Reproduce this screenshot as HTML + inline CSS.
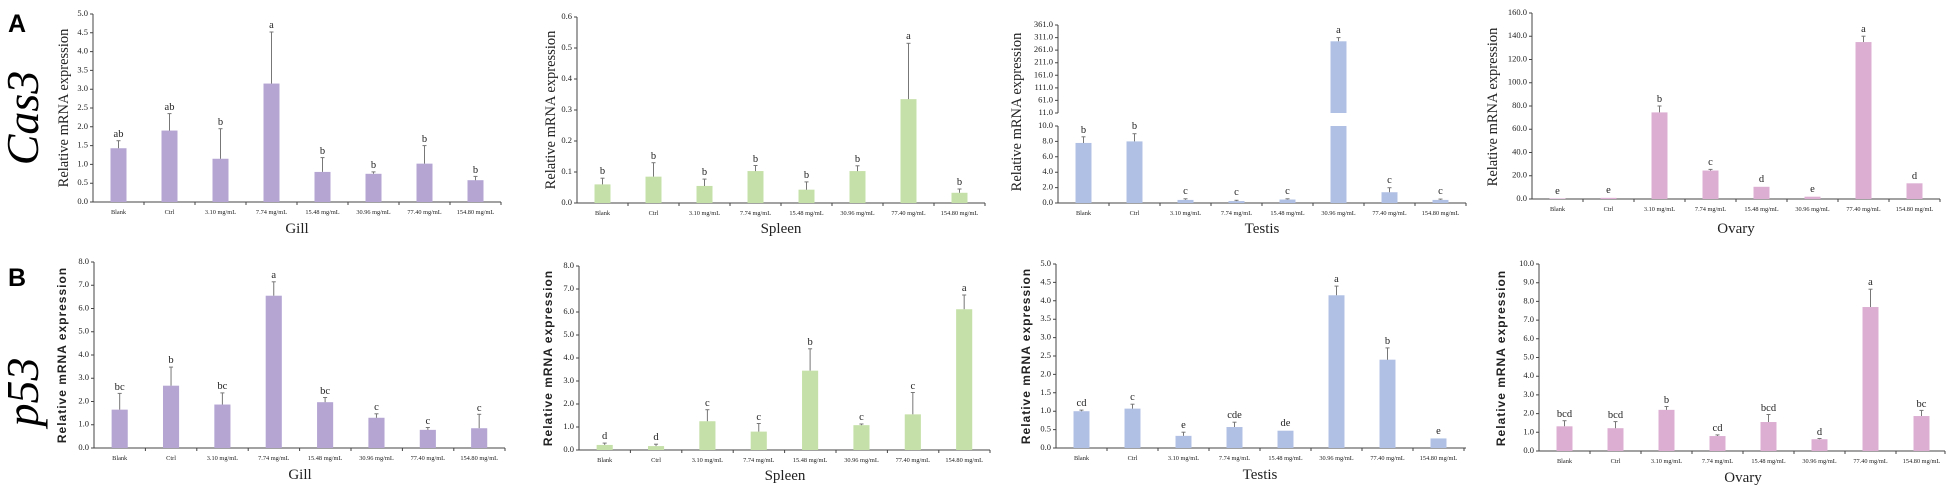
<!DOCTYPE html>
<html><head><meta charset="utf-8"><style>
html,body{margin:0;padding:0;background:#fff}
svg{display:block}
text{font-family:"Liberation Serif",serif;fill:#222}
.t{font-size:8.5px;text-anchor:end;dominant-baseline:middle}
.c{font-size:6.3px;text-anchor:middle}
.l{font-size:10.5px;text-anchor:middle}
.ti{font-size:15px;text-anchor:middle}
.ya{font-size:14.5px;text-anchor:middle}
.yb{font-family:"Liberation Sans",sans-serif;font-size:12px;font-weight:bold;letter-spacing:1px;text-anchor:middle;fill:#222}
.ax{stroke:#444;stroke-width:1;fill:none}
.e line{stroke:#777;stroke-width:1}
</style></head><body>
<svg width="1949" height="492" viewBox="0 0 1949 492" xmlns="http://www.w3.org/2000/svg">
<text x="8" y="32" style="font-family:'Liberation Sans',sans-serif;font-weight:bold;font-size:25px;fill:#000">A</text>
<text x="8" y="286" style="font-family:'Liberation Sans',sans-serif;font-weight:bold;font-size:25px;fill:#000">B</text>
<text transform="translate(38,118) rotate(-90)" style="font-family:'Liberation Serif',serif;font-style:italic;font-size:46px;fill:#000;text-anchor:middle">Cas3</text>
<text transform="translate(38,392) rotate(-90)" style="font-family:'Liberation Serif',serif;font-style:italic;font-size:46px;fill:#000;text-anchor:middle">p53</text>

<!-- A Gill -->
<text class="ya" transform="translate(68,108) rotate(-90)">Relative mRNA expression</text>
<g transform="translate(93,202)">
<path class="ax" d="M0,0V-188M0,0H408M-3,0H0M-3,-18.8H0M-3,-37.6H0M-3,-56.4H0M-3,-75.2H0M-3,-94H0M-3,-112.8H0M-3,-131.6H0M-3,-150.4H0M-3,-169.2H0M-3,-188H0M51,0v3M102,0v3M153,0v3M204,0v3M255,0v3M306,0v3M357,0v3M408,0v3"/>
<text class="t" x="-5" y="0">0.0</text><text class="t" x="-5" y="-18.8">0.5</text><text class="t" x="-5" y="-37.6">1.0</text><text class="t" x="-5" y="-56.4">1.5</text><text class="t" x="-5" y="-75.2">2.0</text><text class="t" x="-5" y="-94">2.5</text><text class="t" x="-5" y="-112.8">3.0</text><text class="t" x="-5" y="-131.6">3.5</text><text class="t" x="-5" y="-150.4">4.0</text><text class="t" x="-5" y="-169.2">4.5</text><text class="t" x="-5" y="-188">5.0</text>
<g fill="#b4a5d3" transform="scale(1,-37.6)"><rect x="17.5" width="16" height="1.43"/><rect x="68.5" width="16" height="1.9"/><rect x="119.5" width="16" height="1.15"/><rect x="170.5" width="16" height="3.15"/><rect x="221.5" width="16" height="0.8"/><rect x="272.5" width="16" height="0.75"/><rect x="323.5" width="16" height="1.02"/><rect x="374.5" width="16" height="0.58"/></g>
<g class="e"><line x1="25.5" x2="25.5" y1="-53.8" y2="-61.3"/><line x1="23.5" x2="27.5" y1="-61.3" y2="-61.3"/><line x1="76.5" x2="76.5" y1="-71.4" y2="-88.4"/><line x1="74.5" x2="78.5" y1="-88.4" y2="-88.4"/><line x1="127.5" x2="127.5" y1="-43.2" y2="-73.3"/><line x1="125.5" x2="129.5" y1="-73.3" y2="-73.3"/><line x1="178.5" x2="178.5" y1="-118.4" y2="-170"/><line x1="176.5" x2="180.5" y1="-170" y2="-170"/><line x1="229.5" x2="229.5" y1="-30.1" y2="-44.4"/><line x1="227.5" x2="231.5" y1="-44.4" y2="-44.4"/><line x1="280.5" x2="280.5" y1="-28.2" y2="-30.1"/><line x1="278.5" x2="282.5" y1="-30.1" y2="-30.1"/><line x1="331.5" x2="331.5" y1="-38.4" y2="-56.4"/><line x1="329.5" x2="333.5" y1="-56.4" y2="-56.4"/><line x1="382.5" x2="382.5" y1="-21.8" y2="-25.6"/><line x1="380.5" x2="384.5" y1="-25.6" y2="-25.6"/></g>
<text class="l" x="25.5" y="-65">ab</text><text class="l" x="76.5" y="-92">ab</text><text class="l" x="127.5" y="-77">b</text><text class="l" x="178.5" y="-174">a</text><text class="l" x="229.5" y="-48">b</text><text class="l" x="280.5" y="-34">b</text><text class="l" x="331.5" y="-60">b</text><text class="l" x="382.5" y="-29">b</text>
<text class="c" x="25.5" y="12">Blank</text><text class="c" x="76.5" y="12">Ctrl</text><text class="c" x="127.5" y="12">3.10 mg/mL</text><text class="c" x="178.5" y="12">7.74 mg/mL</text><text class="c" x="229.5" y="12">15.48 mg/mL</text><text class="c" x="280.5" y="12">30.96 mg/mL</text><text class="c" x="331.5" y="12">77.40 mg/mL</text><text class="c" x="382.5" y="12">154.80 mg/mL</text>
<text class="ti" x="204" y="31">Gill</text>
</g>

<!-- A Spleen -->
<text class="ya" transform="translate(555,110) rotate(-90)">Relative mRNA expression</text>
<g transform="translate(577,203)">
<path class="ax" d="M0,0V-186M0,0H408M-3,0H0M-3,-31H0M-3,-62H0M-3,-93H0M-3,-124H0M-3,-155H0M-3,-186H0M51,0v3M102,0v3M153,0v3M204,0v3M255,0v3M306,0v3M357,0v3M408,0v3"/>
<text class="t" x="-5" y="0">0.0</text><text class="t" x="-5" y="-31">0.1</text><text class="t" x="-5" y="-62">0.2</text><text class="t" x="-5" y="-93">0.3</text><text class="t" x="-5" y="-124">0.4</text><text class="t" x="-5" y="-155">0.5</text><text class="t" x="-5" y="-186">0.6</text>
<g fill="#c5e0a8" transform="scale(1,-310)"><rect x="17.5" width="16" height="0.06"/><rect x="68.5" width="16" height="0.085"/><rect x="119.5" width="16" height="0.055"/><rect x="170.5" width="16" height="0.103"/><rect x="221.5" width="16" height="0.043"/><rect x="272.5" width="16" height="0.103"/><rect x="323.5" width="16" height="0.335"/><rect x="374.5" width="16" height="0.033"/></g>
<g class="e"><line x1="25.5" x2="25.5" y1="-18.6" y2="-24.8"/><line x1="23.5" x2="27.5" y1="-24.8" y2="-24.8"/><line x1="76.5" x2="76.5" y1="-26.4" y2="-40.3"/><line x1="74.5" x2="78.5" y1="-40.3" y2="-40.3"/><line x1="127.5" x2="127.5" y1="-17" y2="-23.9"/><line x1="125.5" x2="129.5" y1="-23.9" y2="-23.9"/><line x1="178.5" x2="178.5" y1="-31.9" y2="-37.5"/><line x1="176.5" x2="180.5" y1="-37.5" y2="-37.5"/><line x1="229.5" x2="229.5" y1="-13.3" y2="-21.1"/><line x1="227.5" x2="231.5" y1="-21.1" y2="-21.1"/><line x1="280.5" x2="280.5" y1="-31.9" y2="-37.2"/><line x1="278.5" x2="282.5" y1="-37.2" y2="-37.2"/><line x1="331.5" x2="331.5" y1="-103.9" y2="-159.7"/><line x1="329.5" x2="333.5" y1="-159.7" y2="-159.7"/><line x1="382.5" x2="382.5" y1="-10.2" y2="-14"/><line x1="380.5" x2="384.5" y1="-14" y2="-14"/></g>
<text class="l" x="25.5" y="-29">b</text><text class="l" x="76.5" y="-44">b</text><text class="l" x="127.5" y="-28">b</text><text class="l" x="178.5" y="-41">b</text><text class="l" x="229.5" y="-25">b</text><text class="l" x="280.5" y="-41">b</text><text class="l" x="331.5" y="-164">a</text><text class="l" x="382.5" y="-18">b</text>
<text class="c" x="25.5" y="12">Blank</text><text class="c" x="76.5" y="12">Ctrl</text><text class="c" x="127.5" y="12">3.10 mg/mL</text><text class="c" x="178.5" y="12">7.74 mg/mL</text><text class="c" x="229.5" y="12">15.48 mg/mL</text><text class="c" x="280.5" y="12">30.96 mg/mL</text><text class="c" x="331.5" y="12">77.40 mg/mL</text><text class="c" x="382.5" y="12">154.80 mg/mL</text>
<text class="ti" x="204" y="30">Spleen</text>
</g>

<!-- A Testis -->
<text class="ya" transform="translate(1021,112) rotate(-90)">Relative mRNA expression</text>
<g transform="translate(1058,203)">
<path class="ax" d="M0,0V-77M0,-90V-178M0,0H408M-3,0H0M-3,-15.4H0M-3,-30.8H0M-3,-46.2H0M-3,-61.6H0M-3,-77H0M-3,-90H0M-3,-102.57H0M-3,-115.14H0M-3,-127.71H0M-3,-140.29H0M-3,-152.86H0M-3,-165.43H0M-3,-178H0M51,0v3M102,0v3M153,0v3M204,0v3M255,0v3M306,0v3M357,0v3M408,0v3"/>
<text class="t" x="-5" y="0">0.0</text><text class="t" x="-5" y="-15.4">2.0</text><text class="t" x="-5" y="-30.8">4.0</text><text class="t" x="-5" y="-46.2">6.0</text><text class="t" x="-5" y="-61.6">8.0</text><text class="t" x="-5" y="-77">10.0</text>
<text class="t" x="-5" y="-90">11.0</text><text class="t" x="-5" y="-102.57">61.0</text><text class="t" x="-5" y="-115.14">111.0</text><text class="t" x="-5" y="-127.71">161.0</text><text class="t" x="-5" y="-140.29">211.0</text><text class="t" x="-5" y="-152.86">261.0</text><text class="t" x="-5" y="-165.43">311.0</text><text class="t" x="-5" y="-178">361.0</text>
<g fill="#b0c0e4" transform="scale(1,-7.7)"><rect x="17.5" width="16" height="7.8"/><rect x="68.5" width="16" height="8.0"/><rect x="119.5" width="16" height="0.4"/><rect x="170.5" width="16" height="0.25"/><rect x="221.5" width="16" height="0.45"/><rect x="272.5" width="16" height="10"/><rect x="323.5" width="16" height="1.4"/><rect x="374.5" width="16" height="0.4"/></g>
<rect x="272.5" y="-161.7" width="16" height="71.7" fill="#b0c0e4"/>
<g class="e"><line x1="25.5" x2="25.5" y1="-60" y2="-66.2"/><line x1="23.5" x2="27.5" y1="-66.2" y2="-66.2"/><line x1="76.5" x2="76.5" y1="-61.6" y2="-69.3"/><line x1="74.5" x2="78.5" y1="-69.3" y2="-69.3"/><line x1="127.5" x2="127.5" y1="-3.1" y2="-4.2"/><line x1="125.5" x2="129.5" y1="-4.2" y2="-4.2"/><line x1="178.5" x2="178.5" y1="-1.9" y2="-2.7"/><line x1="176.5" x2="180.5" y1="-2.7" y2="-2.7"/><line x1="229.5" x2="229.5" y1="-3.5" y2="-4.2"/><line x1="227.5" x2="231.5" y1="-4.2" y2="-4.2"/><line x1="280.5" x2="280.5" y1="-161.7" y2="-165.4"/><line x1="278.5" x2="282.5" y1="-165.4" y2="-165.4"/><line x1="331.5" x2="331.5" y1="-10.8" y2="-15.3"/><line x1="329.5" x2="333.5" y1="-15.3" y2="-15.3"/><line x1="382.5" x2="382.5" y1="-3.1" y2="-3.9"/><line x1="380.5" x2="384.5" y1="-3.9" y2="-3.9"/></g>
<text class="l" x="25.5" y="-70">b</text><text class="l" x="76.5" y="-74">b</text><text class="l" x="127.5" y="-9">c</text><text class="l" x="178.5" y="-8">c</text><text class="l" x="229.5" y="-9">c</text><text class="l" x="280.5" y="-170">a</text><text class="l" x="331.5" y="-20">c</text><text class="l" x="382.5" y="-9">c</text>
<text class="c" x="25.5" y="12">Blank</text><text class="c" x="76.5" y="12">Ctrl</text><text class="c" x="127.5" y="12">3.10 mg/mL</text><text class="c" x="178.5" y="12">7.74 mg/mL</text><text class="c" x="229.5" y="12">15.48 mg/mL</text><text class="c" x="280.5" y="12">30.96 mg/mL</text><text class="c" x="331.5" y="12">77.40 mg/mL</text><text class="c" x="382.5" y="12">154.80 mg/mL</text>
<text class="ti" x="204" y="30">Testis</text>
</g>

<!-- A Ovary -->
<text class="ya" transform="translate(1497,107) rotate(-90)">Relative mRNA expression</text>
<g transform="translate(1532,199)">
<path class="ax" d="M0,0V-186M0,0H408M-3,0H0M-3,-23.25H0M-3,-46.5H0M-3,-69.75H0M-3,-93H0M-3,-116.25H0M-3,-139.5H0M-3,-162.75H0M-3,-186H0M51,0v3M102,0v3M153,0v3M204,0v3M255,0v3M306,0v3M357,0v3M408,0v3"/>
<text class="t" x="-5" y="0">0.0</text><text class="t" x="-5" y="-23.25">20.0</text><text class="t" x="-5" y="-46.5">40.0</text><text class="t" x="-5" y="-69.75">60.0</text><text class="t" x="-5" y="-93">80.0</text><text class="t" x="-5" y="-116.25">100.0</text><text class="t" x="-5" y="-139.5">120.0</text><text class="t" x="-5" y="-162.75">140.0</text><text class="t" x="-5" y="-186">160.0</text>
<g fill="#dcafd2" transform="scale(1,-1.1625)"><rect x="17.5" width="16" height="0.5"/><rect x="68.5" width="16" height="1"/><rect x="119.5" width="16" height="74.5"/><rect x="170.5" width="16" height="24.5"/><rect x="221.5" width="16" height="10.5"/><rect x="272.5" width="16" height="2"/><rect x="323.5" width="16" height="135"/><rect x="374.5" width="16" height="13.5"/></g>
<g class="e"><line x1="127.5" x2="127.5" y1="-86.6" y2="-93"/><line x1="125.5" x2="129.5" y1="-93" y2="-93"/><line x1="178.5" x2="178.5" y1="-28.5" y2="-29.6"/><line x1="176.5" x2="180.5" y1="-29.6" y2="-29.6"/><line x1="331.5" x2="331.5" y1="-157" y2="-162.8"/><line x1="329.5" x2="333.5" y1="-162.8" y2="-162.8"/></g>
<text class="l" x="25.5" y="-5">e</text><text class="l" x="76.5" y="-6">e</text><text class="l" x="127.5" y="-97">b</text><text class="l" x="178.5" y="-34">c</text><text class="l" x="229.5" y="-17">d</text><text class="l" x="280.5" y="-7">e</text><text class="l" x="331.5" y="-167">a</text><text class="l" x="382.5" y="-20">d</text>
<text class="c" x="25.5" y="12">Blank</text><text class="c" x="76.5" y="12">Ctrl</text><text class="c" x="127.5" y="12">3.10 mg/mL</text><text class="c" x="178.5" y="12">7.74 mg/mL</text><text class="c" x="229.5" y="12">15.48 mg/mL</text><text class="c" x="280.5" y="12">30.96 mg/mL</text><text class="c" x="331.5" y="12">77.40 mg/mL</text><text class="c" x="382.5" y="12">154.80 mg/mL</text>
<text class="ti" x="204" y="34">Ovary</text>
</g>

<!-- B Gill -->
<text class="yb" transform="translate(66,355) rotate(-90)">Relative mRNA expression</text>
<g transform="translate(94,448)">
<path class="ax" d="M0,0V-186M0,0H411M-3,0H0M-3,-23.25H0M-3,-46.5H0M-3,-69.75H0M-3,-93H0M-3,-116.25H0M-3,-139.5H0M-3,-162.75H0M-3,-186H0M51.4,0v3M102.8,0v3M154.2,0v3M205.6,0v3M257,0v3M308.4,0v3M359.8,0v3M411,0v3"/>
<text class="t" x="-5" y="0">0.0</text><text class="t" x="-5" y="-23.25">1.0</text><text class="t" x="-5" y="-46.5">2.0</text><text class="t" x="-5" y="-69.75">3.0</text><text class="t" x="-5" y="-93">4.0</text><text class="t" x="-5" y="-116.25">5.0</text><text class="t" x="-5" y="-139.5">6.0</text><text class="t" x="-5" y="-162.75">7.0</text><text class="t" x="-5" y="-186">8.0</text>
<g transform="scale(1.007,1)">
<g fill="#b4a5d3" transform="scale(1,-23.25)"><rect x="17.5" width="16" height="1.65"/><rect x="68.5" width="16" height="2.68"/><rect x="119.5" width="16" height="1.87"/><rect x="170.5" width="16" height="6.55"/><rect x="221.5" width="16" height="1.97"/><rect x="272.5" width="16" height="1.3"/><rect x="323.5" width="16" height="0.78"/><rect x="374.5" width="16" height="0.85"/></g>
<g class="e"><line x1="25.5" x2="25.5" y1="-38.4" y2="-54.6"/><line x1="23.5" x2="27.5" y1="-54.6" y2="-54.6"/><line x1="76.5" x2="76.5" y1="-62.3" y2="-80.9"/><line x1="74.5" x2="78.5" y1="-80.9" y2="-80.9"/><line x1="127.5" x2="127.5" y1="-43.5" y2="-55.1"/><line x1="125.5" x2="129.5" y1="-55.1" y2="-55.1"/><line x1="178.5" x2="178.5" y1="-152.3" y2="-166.2"/><line x1="176.5" x2="180.5" y1="-166.2" y2="-166.2"/><line x1="229.5" x2="229.5" y1="-45.8" y2="-50.5"/><line x1="227.5" x2="231.5" y1="-50.5" y2="-50.5"/><line x1="280.5" x2="280.5" y1="-30.2" y2="-34.2"/><line x1="278.5" x2="282.5" y1="-34.2" y2="-34.2"/><line x1="331.5" x2="331.5" y1="-18.1" y2="-20.5"/><line x1="329.5" x2="333.5" y1="-20.5" y2="-20.5"/><line x1="382.5" x2="382.5" y1="-19.8" y2="-33.7"/><line x1="380.5" x2="384.5" y1="-33.7" y2="-33.7"/></g>
<text class="l" x="25.5" y="-58">bc</text><text class="l" x="76.5" y="-85">b</text><text class="l" x="127.5" y="-59">bc</text><text class="l" x="178.5" y="-170">a</text><text class="l" x="229.5" y="-54">bc</text><text class="l" x="280.5" y="-38">c</text><text class="l" x="331.5" y="-24">c</text><text class="l" x="382.5" y="-37">c</text>
<text class="c" x="25.5" y="12">Blank</text><text class="c" x="76.5" y="12">Ctrl</text><text class="c" x="127.5" y="12">3.10 mg/mL</text><text class="c" x="178.5" y="12">7.74 mg/mL</text><text class="c" x="229.5" y="12">15.48 mg/mL</text><text class="c" x="280.5" y="12">30.96 mg/mL</text><text class="c" x="331.5" y="12">77.40 mg/mL</text><text class="c" x="382.5" y="12">154.80 mg/mL</text>
</g>
<text class="ti" x="206" y="31">Gill</text>
</g>

<!-- B Spleen -->
<text class="yb" transform="translate(552,358) rotate(-90)">Relative mRNA expression</text>
<g transform="translate(579,450)">
<path class="ax" d="M0,0V-184M0,0H411M-3,0H0M-3,-23H0M-3,-46H0M-3,-69H0M-3,-92H0M-3,-115H0M-3,-138H0M-3,-161H0M-3,-184H0M51.4,0v3M102.8,0v3M154.2,0v3M205.6,0v3M257,0v3M308.4,0v3M359.8,0v3M411,0v3"/>
<text class="t" x="-5" y="0">0.0</text><text class="t" x="-5" y="-23">1.0</text><text class="t" x="-5" y="-46">2.0</text><text class="t" x="-5" y="-69">3.0</text><text class="t" x="-5" y="-92">4.0</text><text class="t" x="-5" y="-115">5.0</text><text class="t" x="-5" y="-138">6.0</text><text class="t" x="-5" y="-161">7.0</text><text class="t" x="-5" y="-184">8.0</text>
<g transform="scale(1.007,1)">
<g fill="#c5e0a8" transform="scale(1,-23)"><rect x="17.5" width="16" height="0.22"/><rect x="68.5" width="16" height="0.17"/><rect x="119.5" width="16" height="1.25"/><rect x="170.5" width="16" height="0.8"/><rect x="221.5" width="16" height="3.45"/><rect x="272.5" width="16" height="1.08"/><rect x="323.5" width="16" height="1.55"/><rect x="374.5" width="16" height="6.12"/></g>
<g class="e"><line x1="25.5" x2="25.5" y1="-5.1" y2="-6.9"/><line x1="23.5" x2="27.5" y1="-6.9" y2="-6.9"/><line x1="76.5" x2="76.5" y1="-3.9" y2="-5.8"/><line x1="74.5" x2="78.5" y1="-5.8" y2="-5.8"/><line x1="127.5" x2="127.5" y1="-28.8" y2="-40.3"/><line x1="125.5" x2="129.5" y1="-40.3" y2="-40.3"/><line x1="178.5" x2="178.5" y1="-18.4" y2="-26.5"/><line x1="176.5" x2="180.5" y1="-26.5" y2="-26.5"/><line x1="229.5" x2="229.5" y1="-79.4" y2="-101.2"/><line x1="227.5" x2="231.5" y1="-101.2" y2="-101.2"/><line x1="280.5" x2="280.5" y1="-24.8" y2="-26"/><line x1="278.5" x2="282.5" y1="-26" y2="-26"/><line x1="331.5" x2="331.5" y1="-35.7" y2="-57.5"/><line x1="329.5" x2="333.5" y1="-57.5" y2="-57.5"/><line x1="382.5" x2="382.5" y1="-140.8" y2="-155"/><line x1="380.5" x2="384.5" y1="-155" y2="-155"/></g>
<text class="l" x="25.5" y="-11">d</text><text class="l" x="76.5" y="-10">d</text><text class="l" x="127.5" y="-44">c</text><text class="l" x="178.5" y="-30">c</text><text class="l" x="229.5" y="-105">b</text><text class="l" x="280.5" y="-30">c</text><text class="l" x="331.5" y="-61">c</text><text class="l" x="382.5" y="-159">a</text>
<text class="c" x="25.5" y="12">Blank</text><text class="c" x="76.5" y="12">Ctrl</text><text class="c" x="127.5" y="12">3.10 mg/mL</text><text class="c" x="178.5" y="12">7.74 mg/mL</text><text class="c" x="229.5" y="12">15.48 mg/mL</text><text class="c" x="280.5" y="12">30.96 mg/mL</text><text class="c" x="331.5" y="12">77.40 mg/mL</text><text class="c" x="382.5" y="12">154.80 mg/mL</text>
</g>
<text class="ti" x="206" y="30">Spleen</text>
</g>

<!-- B Testis -->
<text class="yb" transform="translate(1030,356) rotate(-90)">Relative mRNA expression</text>
<g transform="translate(1056,448)">
<path class="ax" d="M0,0V-184M0,0H410M-3,0H0M-3,-18.4H0M-3,-36.8H0M-3,-55.2H0M-3,-73.6H0M-3,-92H0M-3,-110.4H0M-3,-128.8H0M-3,-147.2H0M-3,-165.6H0M-3,-184H0M51,0v3M102,0v3M153,0v3M204,0v3M255,0v3M306,0v3M357,0v3M408,0v3"/>
<text class="t" x="-5" y="0">0.0</text><text class="t" x="-5" y="-18.4">0.5</text><text class="t" x="-5" y="-36.8">1.0</text><text class="t" x="-5" y="-55.2">1.5</text><text class="t" x="-5" y="-73.6">2.0</text><text class="t" x="-5" y="-92">2.5</text><text class="t" x="-5" y="-110.4">3.0</text><text class="t" x="-5" y="-128.8">3.5</text><text class="t" x="-5" y="-147.2">4.0</text><text class="t" x="-5" y="-165.6">4.5</text><text class="t" x="-5" y="-184">5.0</text>
<g fill="#b0c0e4" transform="scale(1,-36.8)"><rect x="17.5" width="16" height="1.0"/><rect x="68.5" width="16" height="1.07"/><rect x="119.5" width="16" height="0.33"/><rect x="170.5" width="16" height="0.57"/><rect x="221.5" width="16" height="0.47"/><rect x="272.5" width="16" height="4.15"/><rect x="323.5" width="16" height="2.4"/><rect x="374.5" width="16" height="0.26"/></g>
<g class="e"><line x1="25.5" x2="25.5" y1="-36.8" y2="-37.9"/><line x1="23.5" x2="27.5" y1="-37.9" y2="-37.9"/><line x1="76.5" x2="76.5" y1="-39.4" y2="-43.8"/><line x1="74.5" x2="78.5" y1="-43.8" y2="-43.8"/><line x1="127.5" x2="127.5" y1="-12.1" y2="-15.8"/><line x1="125.5" x2="129.5" y1="-15.8" y2="-15.8"/><line x1="178.5" x2="178.5" y1="-21" y2="-25.8"/><line x1="176.5" x2="180.5" y1="-25.8" y2="-25.8"/><line x1="280.5" x2="280.5" y1="-152.7" y2="-161.9"/><line x1="278.5" x2="282.5" y1="-161.9" y2="-161.9"/><line x1="331.5" x2="331.5" y1="-88.3" y2="-100.1"/><line x1="329.5" x2="333.5" y1="-100.1" y2="-100.1"/></g>
<text class="l" x="25.5" y="-42">cd</text><text class="l" x="76.5" y="-48">c</text><text class="l" x="127.5" y="-20">e</text><text class="l" x="178.5" y="-30">cde</text><text class="l" x="229.5" y="-22">de</text><text class="l" x="280.5" y="-166">a</text><text class="l" x="331.5" y="-104">b</text><text class="l" x="382.5" y="-14">e</text>
<text class="c" x="25.5" y="12">Blank</text><text class="c" x="76.5" y="12">Ctrl</text><text class="c" x="127.5" y="12">3.10 mg/mL</text><text class="c" x="178.5" y="12">7.74 mg/mL</text><text class="c" x="229.5" y="12">15.48 mg/mL</text><text class="c" x="280.5" y="12">30.96 mg/mL</text><text class="c" x="331.5" y="12">77.40 mg/mL</text><text class="c" x="382.5" y="12">154.80 mg/mL</text>
<text class="ti" x="204" y="31">Testis</text>
</g>

<!-- B Ovary -->
<text class="yb" transform="translate(1505,358) rotate(-90)">Relative mRNA expression</text>
<g transform="translate(1539,451)">
<path class="ax" d="M0,0V-187M0,0H406M-3,0H0M-3,-18.7H0M-3,-37.4H0M-3,-56.1H0M-3,-74.8H0M-3,-93.5H0M-3,-112.2H0M-3,-130.9H0M-3,-149.6H0M-3,-168.3H0M-3,-187H0M51,0v3M102,0v3M153,0v3M204,0v3M255,0v3M306,0v3M357,0v3M406,0v3"/>
<text class="t" x="-5" y="0">0.0</text><text class="t" x="-5" y="-18.7">1.0</text><text class="t" x="-5" y="-37.4">2.0</text><text class="t" x="-5" y="-56.1">3.0</text><text class="t" x="-5" y="-74.8">4.0</text><text class="t" x="-5" y="-93.5">5.0</text><text class="t" x="-5" y="-112.2">6.0</text><text class="t" x="-5" y="-130.9">7.0</text><text class="t" x="-5" y="-149.6">8.0</text><text class="t" x="-5" y="-168.3">9.0</text><text class="t" x="-5" y="-187">10.0</text>
<g fill="#dcafd2" transform="scale(1,-18.7)"><rect x="17.5" width="16" height="1.32"/><rect x="68.5" width="16" height="1.22"/><rect x="119.5" width="16" height="2.2"/><rect x="170.5" width="16" height="0.8"/><rect x="221.5" width="16" height="1.55"/><rect x="272.5" width="16" height="0.63"/><rect x="323.5" width="16" height="7.7"/><rect x="374.5" width="16" height="1.87"/></g>
<g class="e"><line x1="25.5" x2="25.5" y1="-24.7" y2="-30.3"/><line x1="23.5" x2="27.5" y1="-30.3" y2="-30.3"/><line x1="76.5" x2="76.5" y1="-22.8" y2="-29.4"/><line x1="74.5" x2="78.5" y1="-29.4" y2="-29.4"/><line x1="127.5" x2="127.5" y1="-41.1" y2="-44.5"/><line x1="125.5" x2="129.5" y1="-44.5" y2="-44.5"/><line x1="178.5" x2="178.5" y1="-15" y2="-16.1"/><line x1="176.5" x2="180.5" y1="-16.1" y2="-16.1"/><line x1="229.5" x2="229.5" y1="-29" y2="-36.5"/><line x1="227.5" x2="231.5" y1="-36.5" y2="-36.5"/><line x1="280.5" x2="280.5" y1="-11.8" y2="-12.5"/><line x1="278.5" x2="282.5" y1="-12.5" y2="-12.5"/><line x1="331.5" x2="331.5" y1="-144" y2="-161.8"/><line x1="329.5" x2="333.5" y1="-161.8" y2="-161.8"/><line x1="382.5" x2="382.5" y1="-35" y2="-40.6"/><line x1="380.5" x2="384.5" y1="-40.6" y2="-40.6"/></g>
<text class="l" x="25.5" y="-34">bcd</text><text class="l" x="76.5" y="-33">bcd</text><text class="l" x="127.5" y="-48">b</text><text class="l" x="178.5" y="-20">cd</text><text class="l" x="229.5" y="-40">bcd</text><text class="l" x="280.5" y="-16">d</text><text class="l" x="331.5" y="-166">a</text><text class="l" x="382.5" y="-44">bc</text>
<text class="c" x="25.5" y="12">Blank</text><text class="c" x="76.5" y="12">Ctrl</text><text class="c" x="127.5" y="12">3.10 mg/mL</text><text class="c" x="178.5" y="12">7.74 mg/mL</text><text class="c" x="229.5" y="12">15.48 mg/mL</text><text class="c" x="280.5" y="12">30.96 mg/mL</text><text class="c" x="331.5" y="12">77.40 mg/mL</text><text class="c" x="382.5" y="12">154.80 mg/mL</text>
<text class="ti" x="204" y="31">Ovary</text>
</g>
</svg>
</body></html>
